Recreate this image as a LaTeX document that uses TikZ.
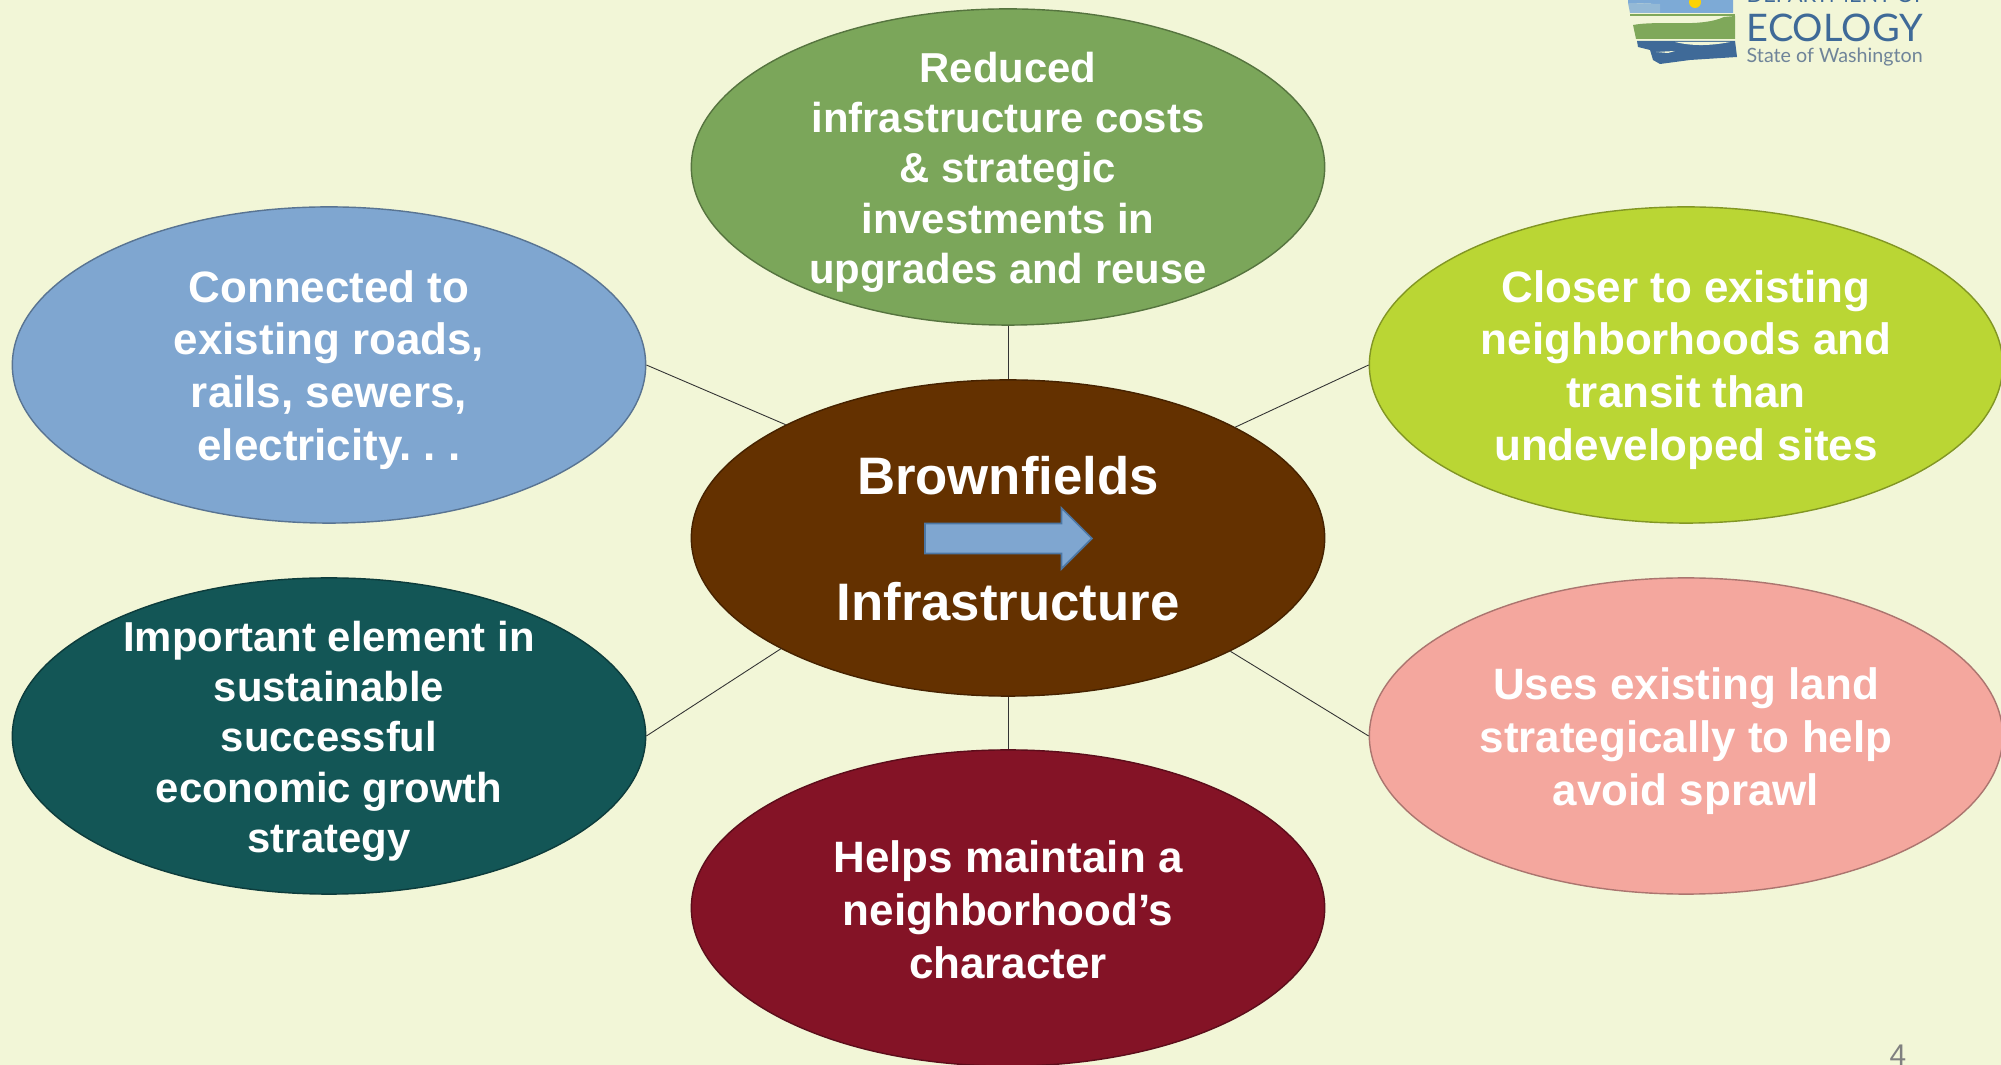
\documentclass[tikz,border=0pt]{standalone}
\usepackage{fontspec}
\setmainfont{Liberation Sans}
\newfontfamily\logofont{Lato}
\usetikzlibrary{shapes.geometric,shapes.arrows}
\definecolor{paper}{HTML}{F2F6D7}
\definecolor{costsfill}{HTML}{7BA65A}
\definecolor{roadsfill}{HTML}{7FA6D0}
\definecolor{transitfill}{HTML}{BAD634}
\definecolor{growthfill}{HTML}{135656}
\definecolor{landfill}{HTML}{F4A79E}
\definecolor{charfill}{HTML}{841326}
\definecolor{hubfill}{HTML}{643100}
\definecolor{logoblue}{HTML}{3F6A98}
\definecolor{logosky}{HTML}{7DAAD6}
\definecolor{logogreen}{HTML}{7FA85A}
\definecolor{logogrey}{HTML}{6F8499}
\tikzset{
  blob/.style={ellipse, draw=#1!70!black, fill=#1, line width=0.4pt, minimum width=6.33cm, minimum height=3.16cm, inner sep=0pt},
  words/.style={align=center, text=white, inner sep=0pt, font=\bfseries\fontsize{12.5}{15}\selectfont\frenchspacing, yshift=-0.05cm},
  fewwords/.style={words, font=\bfseries\fontsize{11.9}{14.3}\selectfont},
  spoke/.style={draw=black!80, line width=0.25pt},
  logotext/.style={anchor=base west, inner sep=0pt, text=logoblue},
}
\begin{document}
\begin{tikzpicture}[x=0.01cm,y=-0.01cm]

    \useasboundingbox (0,0) rectangle (2001,1065);
    \fill[paper] (0,0) rectangle (2001,1065);

    \node[blob=hubfill] at (1008,538) (hub) {};
    \node[blob=costsfill] at (1008,167) (costs) {};
    \node[blob=roadsfill] at (329,365) (roads) {};
    \node[blob=transitfill] at (1686,365) (transit) {};
    \node[blob=growthfill] at (329,736) (growth) {};
    \node[blob=landfill] at (1686,736) (land) {};
    \node[blob=charfill] at (1008,908) (character) {};

    \path[spoke] (costs.south) -- (hub.north);
    \path[spoke] (character.north) -- (hub.south);
    \path[spoke] (roads.east) -- (hub.153.5);
    \path[spoke] (transit.west) -- (hub.26.5);
    \path[spoke] (growth.east) -- (hub.206.5);
    \path[spoke] (land.west) -- (hub.333.5);

    \node[words, yshift=0.04cm, font=\bfseries\fontsize{15}{35.9}\selectfont] at (hub) (hubtext) {Brownfields\\Infrastructure};
    \node[fewwords] at (costs) (coststext) {Reduced\\infrastructure costs\\\& strategic\\investments in\\upgrades and reuse};
    \node[words] at (roads) (roadstext) {Connected to\\existing roads,\\rails, sewers,\\electricity. . .};
    \node[words] at (transit) (transittext) {Closer to existing\\neighborhoods and\\transit than\\undeveloped sites};
    \node[fewwords] at (growth) (growthtext) {Important element in\\sustainable\\successful\\economic growth\\strategy};
    \node[words] at (land) (landtext) {Uses existing land\\strategically to help\\avoid sprawl};
    \node[words, yshift=0.03cm] at (character) (charactertext) {Helps maintain a\\neighborhood’s\\character};

    \node[single arrow, anchor=tail, fill=roadsfill, draw=logoblue!80!roadsfill, line width=0.5pt, inner xsep=0pt, inner ysep=0.14cm, minimum height=1.67cm, minimum width=0.59cm, single arrow head extend=0.155cm, single arrow head indent=0pt] at (924,538.5) (shift) {};

    % logo
    \fill[logosky] (1628,3) -- (1658,4) -- (1659,13) -- (1733,13) -- (1733,0) -- (1628,0) -- cycle;
    \fill[logosky!80!paper] (1628,3) -- (1660,4) -- (1660,13) -- (1630,13) -- cycle;
    \fill[yellow!70!orange] (1695,2) circle (6);
    \fill[logogreen] (1630,14) rectangle (1735,16);
    \fill[logogreen] (1633,25) .. controls (1660,20) and (1700,28) .. (1724,17) -- (1735,16) -- (1735,39) -- (1636,39) -- cycle;
    \fill[logoblue] (1637,41) -- (1735,41) -- (1737,57) -- (1690,60) -- (1660,64) -- (1653,60) -- (1650,50) -- (1638,47) -- cycle;
    \fill[paper] (1675,42) .. controls (1695,47) and (1715,45) .. (1730,42) -- cycle;
    \fill[paper] (1656,52) -- (1675,51) -- (1668,53) -- cycle;

    \node[logotext, font=\logofont\fontsize{6.2}{8}\selectfont] at (1746,3) (dept) {DEPARTMENT OF};
    \node[logotext, font=\logofont\fontsize{10.8}{12}\selectfont] at (1746,42) (ecology) {ECOLOGY};
    \node[logotext, text=logogrey, font=\logofont\fontsize{5.6}{7}\selectfont] at (1746,63) (state) {State of Washington};

    \node[anchor=base, inner sep=0pt, text=black!50, font=\fontsize{8.5}{10}\selectfont] at (1898,1065) (page) {4};

\end{tikzpicture}
\end{document}
